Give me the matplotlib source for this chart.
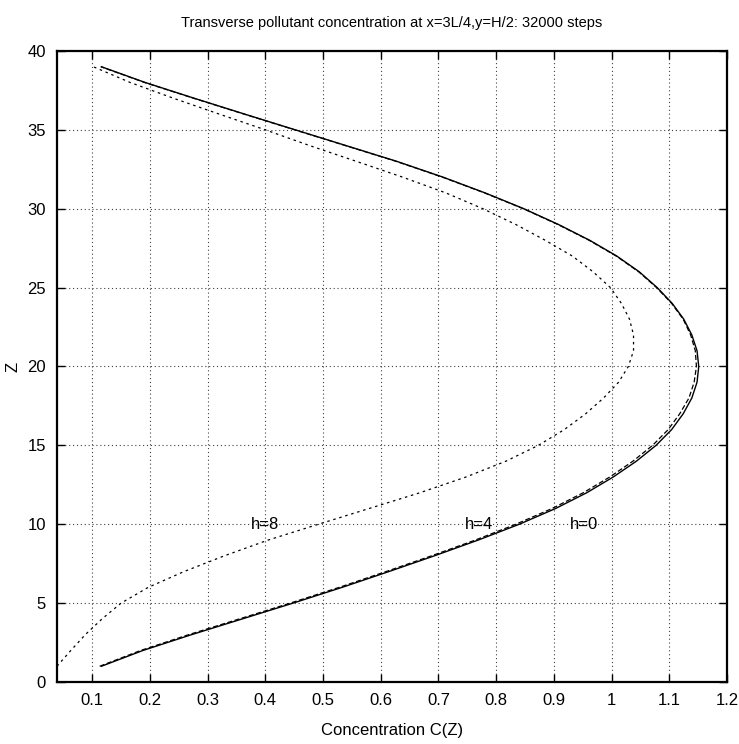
import matplotlib
matplotlib.use('Agg')
import matplotlib.pyplot as plt
from matplotlib import font_manager

# vertical positions (cells) and concentration profiles
z = list(range(1, 40))

c_h0 = [0.116, 0.188, 0.272, 0.360, 0.448, 0.533, 0.614, 0.693, 0.769, 0.840,
        0.903, 0.957, 1.003, 1.043, 1.077, 1.104, 1.124, 1.139, 1.148, 1.151,
        1.148, 1.139, 1.125, 1.105, 1.079, 1.048, 1.009, 0.962, 0.908, 0.848,
        0.781, 0.708, 0.628, 0.540, 0.452, 0.364, 0.277, 0.192, 0.116]

c_h4 = [0.113, 0.184, 0.267, 0.355, 0.443, 0.528, 0.609, 0.688, 0.764, 0.834,
        0.897, 0.951, 0.997, 1.037, 1.071, 1.098, 1.118, 1.134, 1.143, 1.147,
        1.145, 1.137, 1.124, 1.104, 1.078, 1.047, 1.008, 0.961, 0.907, 0.847,
        0.780, 0.707, 0.627, 0.539, 0.451, 0.363, 0.276, 0.191, 0.115]

c_h8 = [0.039, 0.063, 0.088, 0.117, 0.150, 0.197, 0.259, 0.329, 0.405, 0.492,
        0.580, 0.668, 0.748, 0.817, 0.873, 0.918, 0.955, 0.986, 1.012, 1.029,
        1.038, 1.038, 1.031, 1.017, 0.998, 0.968, 0.932, 0.885, 0.834, 0.777,
        0.713, 0.638, 0.558, 0.477, 0.400, 0.320, 0.241, 0.166, 0.102]

x_ticks = [0.1, 0.2, 0.3, 0.4, 0.5, 0.6, 0.7, 0.8, 0.9, 1.0, 1.1, 1.2]
x_tick_labels = ['0.1', '0.2', '0.3', '0.4', '0.5', '0.6', '0.7', '0.8', '0.9', '1', '1.1', '1.2']
y_ticks = [0, 5, 10, 15, 20, 25, 30, 35, 40]

names = [f.name for f in font_manager.fontManager.ttflist]
if 'Liberation Sans Narrow' in names:
    plt.rcParams['font.family'] = ['Liberation Sans Narrow', 'DejaVu Sans']
else:
    plt.rcParams['font.family'] = ['Liberation Sans', 'DejaVu Sans']

fig = plt.figure(figsize=(7.39, 7.44), dpi=100)
ax = fig.add_axes([0.0771, 0.0833, 0.9067, 0.8482])

ax.plot(c_h0, z, color='black', lw=1.0, linestyle='-')
ax.plot(c_h4, z, color='black', lw=0.9, linestyle=(0, (4, 2)))
ax.plot(c_h8, z, color='black', lw=0.9, linestyle=(0, (2, 3)))

ax.text(0.40, 10, 'h=8', ha='center', va='center', fontsize=12)
ax.text(0.771, 10, 'h=4', ha='center', va='center', fontsize=12)
ax.text(0.952, 10, 'h=0', ha='center', va='center', fontsize=12)

ax.set_xlim(0.039, 1.2)
ax.set_ylim(0, 40)
ax.set_xticks(x_ticks)
ax.set_xticklabels(x_tick_labels)
ax.set_yticks(y_ticks)
ax.tick_params(direction='in', length=6, width=1, top=True, right=True,
               labeltop=False, labelright=False, labelsize=12, pad=8)
ax.grid(True, color='black', linestyle=(0, (1, 2.5)), linewidth=0.8, alpha=0.75)
for s in ax.spines.values():
    s.set_linewidth(1.6)

ax.set_title('Transverse pollutant concentration at x=3L/4,y=H/2: 32000 steps',
             fontsize=10.5, pad=17)
ax.set_xlabel('Concentration C(Z)', fontsize=12, labelpad=11)
ax.set_ylabel('Z', fontsize=12, labelpad=5)

fig.savefig('out.png', dpi=100)
